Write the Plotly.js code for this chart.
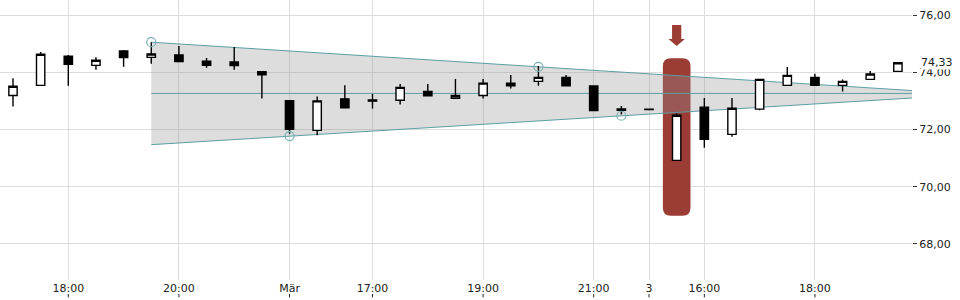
<!DOCTYPE html>
<html>
<head>
<meta charset="utf-8">
<script src="https://cdn.plot.ly/plotly-3.0.1.min.js"></script>
<style>html,body{margin:0;padding:0;background:#fff;}#chart{width:960px;height:300px;}</style>
</head>
<body>
<div id="chart"></div>
<script>
// 30-minute candles
const times = [
  "28.02. 17:00","28.02. 17:30","28.02. 18:00","28.02. 18:30","28.02. 19:00","28.02. 19:30","28.02. 20:00","28.02. 20:30","28.02. 21:00","28.02. 21:30",
  "01.03. 15:30","01.03. 16:00","01.03. 16:30","01.03. 17:00","01.03. 17:30","01.03. 18:00","01.03. 18:30","01.03. 19:00","01.03. 19:30","01.03. 20:00","01.03. 20:30","01.03. 21:00","01.03. 21:30",
  "03.03. 15:00","03.03. 15:30","03.03. 16:00","03.03. 16:30","03.03. 17:00","03.03. 17:30","03.03. 18:00","03.03. 18:30","03.03. 19:00","03.03. 19:30"
];
const open  = [73.19,73.54,74.56,74.24,74.74,74.52,74.60,74.39,74.36,74.02,73.01,71.97,73.07,73.03,73.02,73.33,73.09,73.19,73.62,73.68,73.82,73.52,72.72,72.71,70.92,72.78,71.83,72.71,73.54,73.82,73.54,73.75,74.03];
const high  = [73.79,74.71,74.60,74.52,74.78,75.05,74.92,74.50,74.88,74.02,73.01,73.15,73.55,73.24,73.59,73.59,73.76,73.76,73.90,74.22,73.90,73.52,72.82,72.71,72.57,73.10,73.10,73.75,74.18,73.95,73.75,74.04,74.33];
const low   = [72.80,73.54,73.53,74.09,74.19,74.30,74.36,74.16,74.09,73.08,71.85,71.80,72.76,72.73,72.87,73.18,73.09,73.08,73.43,73.53,73.53,72.66,72.52,72.70,70.92,71.36,71.75,72.67,73.54,73.54,73.33,73.75,74.03];
const close = [73.51,74.63,74.28,74.42,74.51,74.64,74.37,74.24,74.23,73.91,72.01,73.00,72.76,72.99,73.47,73.18,73.19,73.62,73.53,73.82,73.53,72.66,72.67,72.70,72.50,71.66,72.74,73.75,73.89,73.54,73.68,73.94,74.33];

// x-axis tick labels (positions as candle indices)
const tickIdx    = [2, 6, 10, 13, 17, 21, 23, 25, 29];
const tickLabels = ["18:00","20:00","Mär","17:00","19:00","21:00","3","16:00","18:00"];

// y-axis ticks
const yTicks = [68, 70, 72, 74, 76];

// triangle (pivot-based trend lines)
const triUpperX = [5, 32.51];
const triUpperY = [75.05, 73.36];
const triLowerX = [5, 32.51];
const triLowerY = [71.47, 73.10];
const triMidY   = [73.26, 73.26];
const pivotX = [5, 10, 19, 22];
const pivotY = [75.05, 71.77, 74.19, 72.48];

// highlighted candle
const highlightIdx = 24;
const highlightRange = [68.99, 74.49];
const arrowRange = [74.92, 75.65];

const lastPrice = close[close.length - 1];

const xIdx = times.map((_, i) => i);
const teal = "#5b9fa3";
const red = "#9b3c35";

const traces = [
  {
    type: "candlestick", x: xIdx, open: open, high: high, low: low, close: close,
    whiskerwidth: 0,
    increasing: {line: {color: "#000", width: 1.4}, fillcolor: "#ffffff"},
    decreasing: {line: {color: "#000", width: 1.4}, fillcolor: "#000000"},
    hoverinfo: "skip", showlegend: false
  },
  {
    type: "scatter", mode: "markers", x: pivotX, y: pivotY,
    marker: {symbol: "circle-open", size: 9, color: "#78b0b6", line: {width: 1.2}},
    hoverinfo: "skip", showlegend: false
  }
];

const yspan = 28.625; // px per unit (for corner radii)
const xspan = 27.656; // px per index
const rx = 8 / xspan, ry = 8 / yspan;
const hx0 = highlightIdx - 0.5, hx1 = highlightIdx + 0.5;
const hy0 = highlightRange[0], hy1 = highlightRange[1];
const rectPath =
  `M ${hx0 + rx} ${hy1} L ${hx1 - rx} ${hy1} Q ${hx1} ${hy1} ${hx1} ${hy1 - ry} ` +
  `L ${hx1} ${hy0 + ry} Q ${hx1} ${hy0} ${hx1 - rx} ${hy0} ` +
  `L ${hx0 + rx} ${hy0} Q ${hx0} ${hy0} ${hx0} ${hy0 + ry} ` +
  `L ${hx0} ${hy1 - ry} Q ${hx0} ${hy1} ${hx0 + rx} ${hy1} Z`;

const sw = 4.6 / xspan, hw = 8.2 / xspan;
const aTip = arrowRange[0], aTop = arrowRange[1];
const aBase = aTip + 6.8 / yspan;
const arrowPath =
  `M ${highlightIdx - sw} ${aTop} L ${highlightIdx + sw} ${aTop} L ${highlightIdx + sw} ${aBase} ` +
  `L ${highlightIdx + hw} ${aBase} L ${highlightIdx} ${aTip} L ${highlightIdx - hw} ${aBase} ` +
  `L ${highlightIdx - sw} ${aBase} Z`;

const triPath =
  `M ${triUpperX[0]} ${triUpperY[0]} L ${triUpperX[1]} ${triUpperY[1]} ` +
  `L ${triLowerX[1]} ${triLowerY[1]} L ${triLowerX[0]} ${triLowerY[0]} Z`;

const shapes = [
  {type: "path", xref: "x", yref: "y", path: rectPath, fillcolor: red, line: {width: 0}, layer: "between"},
  {type: "path", xref: "x", yref: "y", path: triPath, fillcolor: "rgba(150,150,150,0.32)", line: {width: 0}, layer: "between"},
  {type: "line", xref: "x", yref: "y", x0: triUpperX[0], x1: triUpperX[1], y0: triUpperY[0], y1: triUpperY[1], line: {color: teal, width: 1}, layer: "between"},
  {type: "line", xref: "x", yref: "y", x0: triLowerX[0], x1: triLowerX[1], y0: triLowerY[0], y1: triLowerY[1], line: {color: teal, width: 1}, layer: "between"},
  {type: "line", xref: "x", yref: "y", x0: triUpperX[0], x1: triUpperX[1], y0: triMidY[0], y1: triMidY[1], line: {color: teal, width: 1}, layer: "between"},
  {type: "path", xref: "x", yref: "y", path: arrowPath, fillcolor: red, line: {width: 0}, layer: "above"}
];
tickIdx.forEach(i => {
  shapes.push({type: "line", xref: "x", yref: "paper", x0: i, x1: i, y0: -0.05, y1: -0.062,
    line: {color: "#222", width: 1}});
});

const font = {family: "DejaVu Sans, sans-serif", size: 11, color: "#222"};

const layout = {
  width: 960, height: 300,
  margin: {l: 0, r: 48, t: 0, b: 20, pad: 0},
  paper_bgcolor: "#fff", plot_bgcolor: "#fff",
  separators: ",.",
  font: font,
  showlegend: false,
  boxgap: 0.57,
  xaxis: {
    type: "linear", range: [-0.47, 32.51],
    tickvals: tickIdx, ticktext: tickLabels,
    showgrid: true, gridcolor: "#dcdcdc", gridwidth: 1,
    zeroline: false, showline: false, ticks: "",
    rangeslider: {visible: false},
    tickfont: font, fixedrange: true
  },
  yaxis: {
    side: "right", range: [66.742, 76.524],
    tickvals: yTicks, tickformat: ".2f",
    showgrid: true, gridcolor: "#dcdcdc", gridwidth: 1,
    zeroline: false, showline: false,
    ticks: "outside", ticklen: 4, tickcolor: "#333", tickwidth: 1,
    tickfont: font, fixedrange: true
  },
  shapes: shapes,
  annotations: [{
    xref: "paper", x: 1, xanchor: "left", xshift: 8,
    yref: "y", y: lastPrice, yanchor: "middle",
    text: lastPrice.toFixed(2).replace(".", ","),
    showarrow: false, bgcolor: "#fff", font: font, borderpad: 0
  }]
};

Plotly.newPlot("chart", traces, layout, {displayModeBar: false, staticPlot: true});
</script>
</body>
</html>
